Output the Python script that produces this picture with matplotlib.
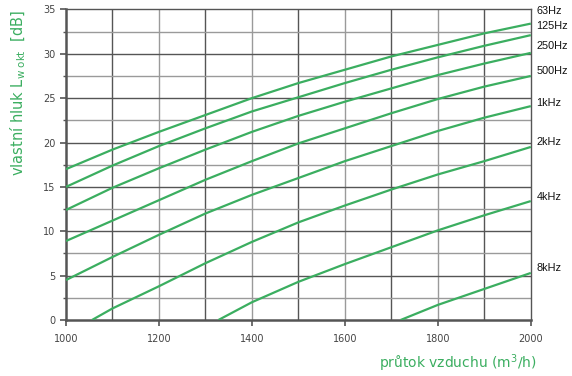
import numpy as np
import matplotlib.pyplot as plt
from matplotlib.ticker import MultipleLocator

# airflow values (m3/h) and noise levels
flow = [1000, 1100, 1200, 1300, 1400, 1500, 1600, 1700, 1800, 1900, 2000]

hz63 = [17.0, 19.2, 21.2, 23.1, 25.0, 26.7, 28.2, 29.7, 31.0, 32.3, 33.4]
hz125 = [15.0, 17.4, 19.6, 21.6, 23.5, 25.1, 26.7, 28.2, 29.6, 30.9, 32.1]
hz250 = [12.4, 14.9, 17.1, 19.2, 21.2, 23.0, 24.6, 26.1, 27.6, 28.9, 30.1]
hz500 = [8.9, 11.2, 13.5, 15.8, 17.9, 19.9, 21.6, 23.3, 24.9, 26.3, 27.5]
hz1k = [4.5, 7.1, 9.6, 12.0, 14.1, 16.0, 17.9, 19.6, 21.3, 22.8, 24.1]

flow_2k = [1056, 1100, 1200, 1300, 1400, 1500, 1600, 1700, 1800, 1900, 2000]
hz2k = [0.0, 1.3, 3.8, 6.4, 8.8, 11.0, 12.9, 14.7, 16.4, 17.9, 19.5]

flow_4k = [1328, 1400, 1500, 1600, 1700, 1800, 1900, 2000]
hz4k = [0.0, 2.0, 4.3, 6.3, 8.2, 10.1, 11.8, 13.4]

flow_8k = [1720, 1800, 1900, 2000]
hz8k = [0.0, 1.7, 3.5, 5.3]

series = [(flow, hz63), (flow, hz125), (flow, hz250), (flow, hz500),
          (flow, hz1k), (flow_2k, hz2k), (flow_4k, hz4k), (flow_8k, hz8k)]
labels = ['63Hz', '125Hz', '250Hz', '500Hz', '1kHz', '2kHz', '4kHz', '8kHz']
label_dy = [1.4, 1.0, 0.8, 0.6, 0.4, 0.6, 0.5, 0.6]

green = '#3bae60'
dark = '#555555'
light = '#9a9a9a'

fig = plt.figure(figsize=(5.72, 3.76), dpi=100)
ax = fig.add_axes([0.1154, 0.149, 0.8126, 0.826])

# grid: alternate dark / light lines
for i, xv in enumerate(np.arange(1100, 2000, 100)):
    ax.axvline(xv, color=dark if i % 2 == 0 else light, lw=1.0, zorder=1)
for i, yv in enumerate(np.arange(2.5, 35, 2.5)):
    ax.axhline(yv, color=light if i % 2 == 0 else dark, lw=1.0, zorder=1)

for (xs, ys) in series:
    ax.plot(xs, ys, color=green, lw=1.6, zorder=3, solid_capstyle='butt')

for (xs, ys), lab, dy in zip(series, labels, label_dy):
    ax.annotate(lab, xy=(xs[-1], ys[-1] + dy), xycoords='data',
                xytext=(4, 0), textcoords='offset points',
                fontsize=7.8, family='Liberation Sans', color='#111111',
                va='center', ha='left', annotation_clip=False)

ax.set_xlim(1000, 2000)
ax.set_ylim(0, 35)
ax.xaxis.set_major_locator(MultipleLocator(200))
ax.yaxis.set_major_locator(MultipleLocator(5))
ax.yaxis.set_minor_locator(MultipleLocator(2.5))

for side in ['left', 'bottom']:
    ax.spines[side].set_color(dark)
    ax.spines[side].set_linewidth(1.8)
for side in ['top', 'right']:
    ax.spines[side].set_color(dark)
    ax.spines[side].set_linewidth(1.0)

ax.tick_params(axis='both', which='major', colors=dark, labelsize=7,
               labelcolor='#444444', length=4, width=1.2)
ax.tick_params(axis='y', which='minor', colors=dark, length=2, width=1.0)
ax.tick_params(axis='x', pad=6)

fig.text(0.032, 0.975, 'vlastní hluk L$_{\\mathregular{w\\ okt}}$  [dB]',
         rotation=90, ha='center', va='top', color=green, fontsize=10.5)
fig.text(0.938, 0.004, 'průtok vzduchu (m$^{\\mathregular{3}}$/h)',
         ha='right', va='bottom', color=green, fontsize=10)

fig.savefig('out.png', dpi=100)
